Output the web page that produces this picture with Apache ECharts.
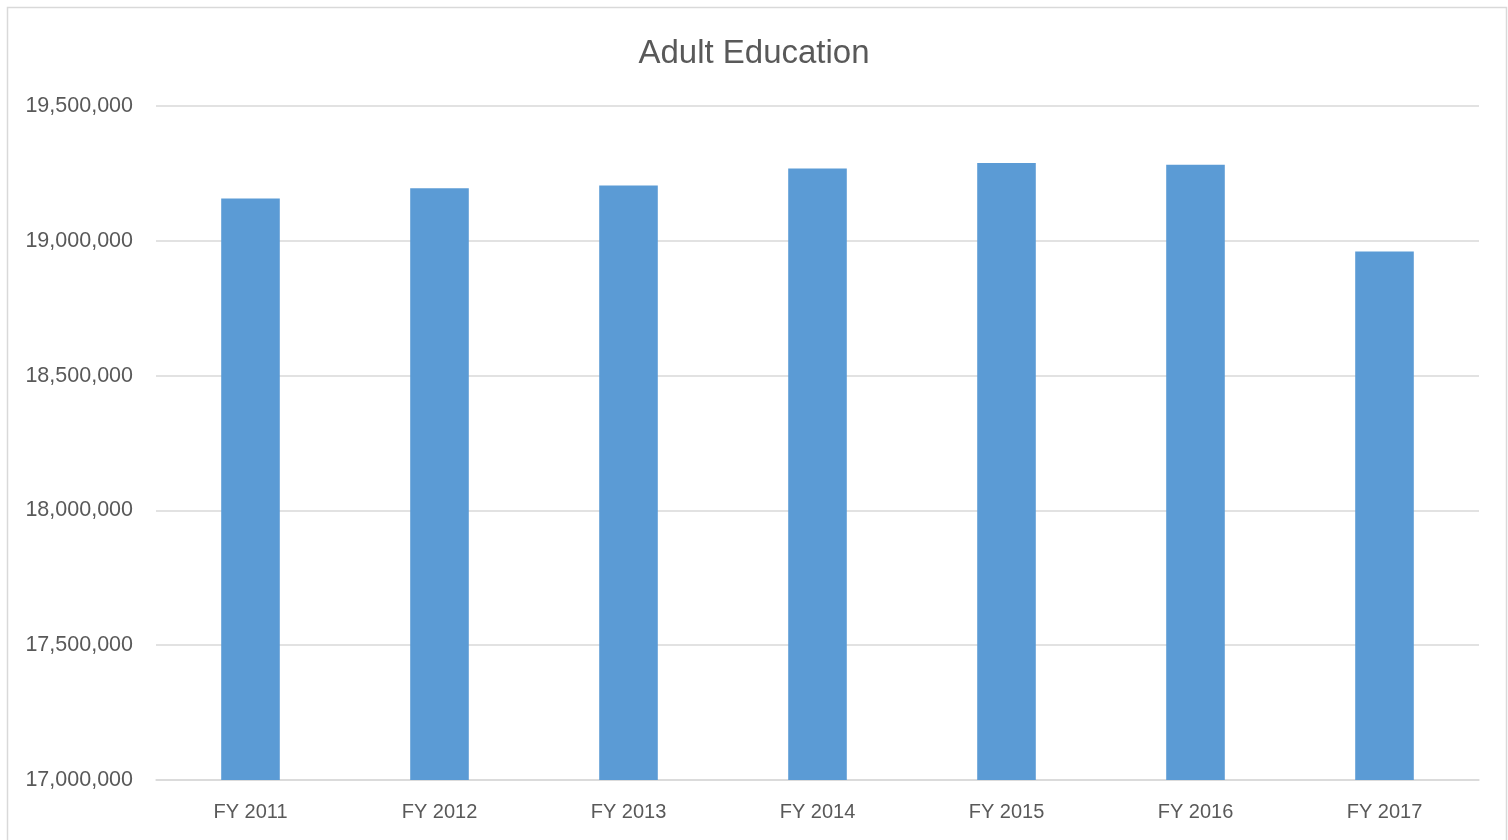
<!DOCTYPE html>
<html>
<head>
<meta charset="utf-8">
<script src="https://cdn.jsdelivr.net/npm/echarts@6/dist/echarts.min.js"></script>
<style>
  html, body { margin: 0; padding: 0; background: #fff; }
  #chart { width: 1508px; height: 840px; }
</style>
</head>
<body>
<div id="chart"></div>
<script>
const categories = ['FY 2011', 'FY 2012', 'FY 2013', 'FY 2014', 'FY 2015', 'FY 2016', 'FY 2017']
const values = [19157000, 19195000, 19205000, 19268000, 19289000, 19282000, 18960000]
const yMin = 17000000
const yMax = 19500000
const yStep = 500000

const chart = echarts.init(document.getElementById('chart'))
chart.setOption({
  animation: false,
  textStyle: { fontFamily: 'Liberation Sans, Arial, sans-serif' },
  title: {
    text: 'Adult Education',
    left: 'center',
    top: 32,
    textStyle: { color: '#595959', fontSize: 33, fontWeight: 'normal' }
  },
  graphic: [{
    type: 'rect',
    shape: { x: 7.5, y: 7.5, width: 1499, height: 840 },
    style: { fill: 'none', stroke: '#d9d9d9', lineWidth: 1.5 },
    silent: true
  }],
  grid: { left: 156, right: 29, top: 106, bottom: 60 },
  xAxis: {
    type: 'category',
    data: categories,
    axisTick: { show: false },
    axisLine: { lineStyle: { color: '#d9d9d9', width: 1.5 } },
    axisLabel: { color: '#595959', fontSize: 20, margin: 22 }
  },
  yAxis: {
    type: 'value',
    min: yMin,
    max: yMax,
    interval: yStep,
    axisLine: { show: false },
    axisTick: { show: false },
    axisLabel: {
      color: '#595959',
      fontSize: 21.5,
      margin: 23,
      padding: [2, 0, 0, 0],
      formatter: v => v.toLocaleString('en-US')
    },
    splitLine: { lineStyle: { color: '#d9d9d9', width: 1.5 } }
  },
  series: [{
    type: 'bar',
    data: values,
    barWidth: '31%',
    itemStyle: { color: '#5b9bd5' }
  }]
})
</script>
</body>
</html>
